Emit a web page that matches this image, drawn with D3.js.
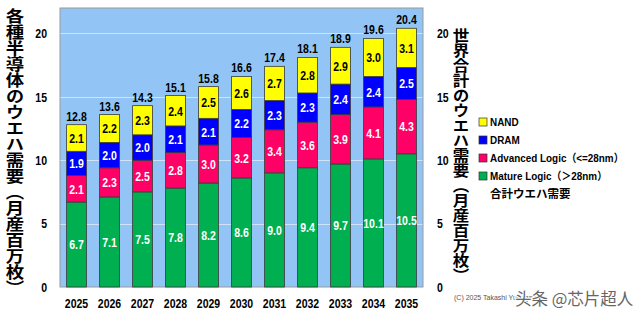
<!DOCTYPE html>
<html><head><meta charset="utf-8">
<script src="https://cdn.jsdelivr.net/npm/d3@7"></script>
<style>
html,body{margin:0;padding:0;background:#fff;}
svg{display:block;}
</style></head>
<body>
<svg id="chart" width="640" height="322"></svg>
<script>
const years = ["2025","2026","2027","2028","2029","2030","2031","2032","2033","2034","2035"];
const mature = [6.7,7.1,7.5,7.8,8.2,8.6,9.0,9.4,9.7,10.1,10.5];
const advanced = [2.1,2.3,2.5,2.8,3.0,3.2,3.4,3.6,3.9,4.1,4.3];
const dram = [1.9,2.0,2.0,2.1,2.1,2.2,2.3,2.3,2.4,2.4,2.5];
const nand = [2.1,2.2,2.3,2.4,2.5,2.6,2.7,2.8,2.9,3.0,3.1];
const totals = [12.8,13.6,14.3,15.1,15.8,16.6,17.4,18.1,18.9,19.6,20.4];
const yTicks = [0,5,10,15,20];
const seriesNames = ["Mature Logic（＞28nm）","Advanced Logic（<=28nm）","DRAM","NAND"];
const seriesColors = ["#00b050","#ff0066","#0000ff","#ffff00"];
const labelColors = ["#ffffff","#ffffff","#ffffff","#000000"];
const leftTitle = "各種半導体のウエハ需要（月産百万枚）";
const rightTitle = "世界合計のウエハ需要（月産百万枚）";
const totalLegend = "合計ウエハ需要";

const numFont = "'Liberation Sans',Arial,sans-serif";
const cjkFont = "'Noto Sans CJK JP','Noto Sans CJK SC',sans-serif";
const NARROW = 0.78;
const NUMSIZE = 13.5;

const svg = d3.select("#chart");
const plot = {left:60, right:423, top:8, bottom:287};

const x = d3.scaleBand().domain(years).range([plot.left, plot.right]).paddingInner(0.4).paddingOuter(0.2);
const y = d3.scaleLinear().domain([0,22]).range([plot.bottom, plot.top]);

function narrowText(sel, xf, yf){
  sel.attr("x",0).attr("y",0)
     .attr("transform",(d,i)=>`translate(${xf(d,i)},${yf(d,i)}) scale(${NARROW},1)`);
}

// background
svg.append("rect").attr("x",plot.left).attr("y",plot.top)
  .attr("width",plot.right-plot.left).attr("height",plot.bottom-plot.top)
  .attr("fill","#92c5f5").attr("stroke","#9a9a9a").attr("stroke-width",1);

// gridlines
svg.append("g").selectAll("line").data(yTicks.filter(d=>d>0)).join("line")
  .attr("x1",plot.left+0.5).attr("x2",plot.right-0.5)
  .attr("y1",d=>Math.round(y(d))+0.5).attr("y2",d=>Math.round(y(d))+0.5)
  .attr("stroke","#cfe4fb").attr("stroke-width",1);

// stacked data
const table = years.map((yr,i)=>({year:yr, s0:mature[i], s1:advanced[i], s2:dram[i], s3:nand[i]}));
const stack = d3.stack().keys(["s0","s1","s2","s3"])(table);

const layers = svg.append("g").selectAll("g").data(stack).join("g")
  .attr("fill",(d,i)=>seriesColors[i]);
layers.selectAll("rect").data(d=>d).join("rect")
  .attr("x",d=>x(d.data.year))
  .attr("width",x.bandwidth())
  .attr("y",d=>y(d[1]))
  .attr("height",d=>y(d[0])-y(d[1]))
  .attr("stroke","#3a3a3a").attr("stroke-width",0.8);

// segment labels
stack.forEach((layer,li)=>{
  const t = svg.append("g").selectAll("text").data(layer).join("text")
    .attr("dy","0.36em")
    .attr("text-anchor","middle")
    .attr("font-family",numFont).attr("font-weight","bold").attr("font-size",NUMSIZE)
    .attr("fill",labelColors[li])
    .text(d=>(d[1]-d[0]).toFixed(1));
  narrowText(t, d=>x(d.data.year)+x.bandwidth()/2, d=>(y(d[0])+y(d[1]))/2);
});

// totals
const tt = svg.append("g").selectAll("text").data(years).join("text")
  .attr("text-anchor","middle")
  .attr("font-family",numFont).attr("font-weight","bold").attr("font-size",NUMSIZE)
  .attr("fill","#000")
  .text((d,i)=>totals[i].toFixed(1));
narrowText(tt, d=>x(d)+x.bandwidth()/2, (d,i)=>y(totals[i])-4);

// axes
const leftAxis = d3.axisLeft(y).tickValues(yTicks).tickSize(0).tickPadding(13);
const gl = svg.append("g").attr("transform",`translate(${plot.left},0)`).call(leftAxis);
const rightAxis = d3.axisRight(y).tickValues(yTicks).tickSize(0).tickPadding(14);
const gr = svg.append("g").attr("transform",`translate(${plot.right},0)`).call(rightAxis);
const bottomAxis = d3.axisBottom(x).tickSize(0).tickPadding(11);
const gb = svg.append("g").attr("transform",`translate(0,${plot.bottom})`).call(bottomAxis);
[gl,gr,gb].forEach(g=>{
  g.select(".domain").remove();
  g.selectAll("text").attr("font-family",numFont).attr("font-weight","bold").attr("font-size",NUMSIZE).attr("fill","#000")
    .each(function(){
      const el = d3.select(this);
      const xx = +el.attr("x") || 0;
      el.attr("x",0).attr("transform",`translate(${xx},0) scale(${NARROW},1)`);
    });
});

// vertical titles
svg.append("text").attr("x",0).attr("y",0)
  .attr("transform","translate(15,8) scale(1.15,1)")
  .style("writing-mode","vertical-rl")
  .attr("font-family",cjkFont).attr("font-weight","bold").attr("font-size",16)
  .attr("fill","#000").text(leftTitle);
svg.append("text").attr("x",0).attr("y",0)
  .attr("transform","translate(461,28) scale(1.1,1)")
  .style("writing-mode","vertical-rl")
  .attr("font-family",cjkFont).attr("font-weight","bold").attr("font-size",15)
  .attr("fill","#000").text(rightTitle);

// legend
const legendItems = [3,2,1,0];
const lg = svg.append("g");
legendItems.forEach((si,k)=>{
  const yy = 122 + k*18;
  lg.append("rect").attr("x",479).attr("y",yy-4).attr("width",8).attr("height",8)
    .attr("fill",seriesColors[si]).attr("stroke","#333").attr("stroke-width",0.7);
  lg.append("text").attr("x",0).attr("y",0).attr("dy","0.36em")
    .attr("transform",`translate(490,${yy}) scale(0.9,1)`)
    .attr("font-family","'Liberation Sans',Arial,'Noto Sans CJK JP',sans-serif").attr("font-weight","bold").attr("font-size",11)
    .attr("fill","#000").text(seriesNames[si]);
});
lg.append("text").attr("x",490).attr("y",194).attr("dy","0.36em")
  .attr("font-family",cjkFont).attr("font-weight","bold").attr("font-size",11.5)
  .attr("fill","#000").text(totalLegend);

// copyright and watermark
svg.append("text").attr("x",454).attr("y",300)
  .attr("font-family","'Liberation Sans',Arial,sans-serif").attr("font-size",7)
  .attr("fill","#555").text("(C) 2025 Takashi Yunogami");
svg.append("text").attr("x",515).attr("y",305)
  .attr("font-family",cjkFont).attr("font-size",16.5)
  .attr("fill","#666").attr("stroke","#fff").attr("stroke-width",2).attr("paint-order","stroke")
  .text("头条 @芯片超人");
</script>
</body></html>
